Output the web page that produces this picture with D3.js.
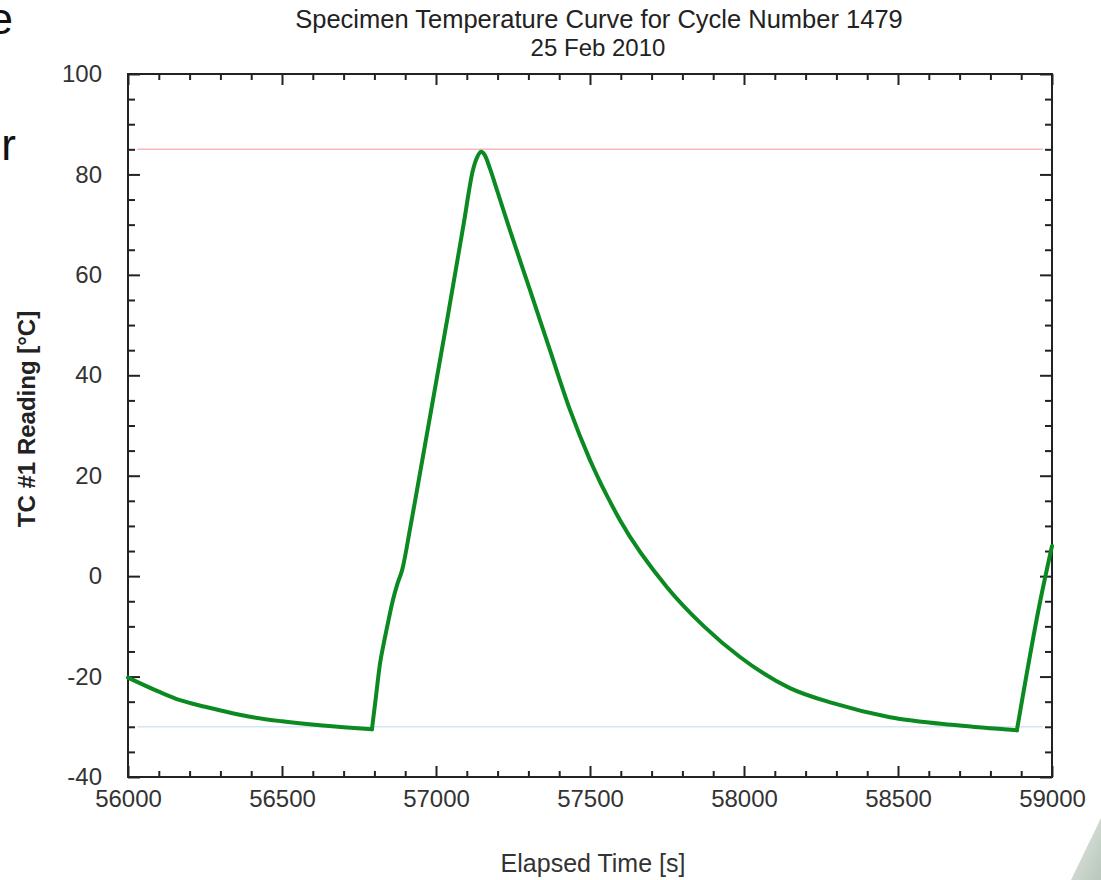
<!DOCTYPE html>
<html>
<head>
    <meta charset="utf-8">
    <style>
        body {
            margin: 0;
            background: #fff;
            font-family: 'Liberation Sans', Arial, sans-serif;
        }
        svg {
            display: block;
        }
        .tick text {
            font-size: 24px;
            fill: #333;
        }
        .domain {
            display: none;
        }
        .tick line {
            stroke: #222;
            stroke-width: 2;
        }
        .title {
            fill: #222;
        }
    </style>
</head>
<body>
    <svg width="1101" height="880"></svg>

<script src="https://d3js.org/d3.v7.min.js"></script>
<script>
    // curve: elapsed time [s] and TC #1 reading [°C]
    let times = [56000, 56100, 56169, 56250, 56406, 56500, 56623, 56700, 56792,
        56805, 56818, 56830, 56841, 56860, 56875, 56890, 56916, 56935, 57036,
        57090, 57120, 57135, 57146, 57158, 57175, 57200, 57240, 57305, 57370,
        57435, 57500, 57597, 57750, 57870, 57987, 58149, 58289, 58474, 58692,
        58886, 58961, 59000]
    let temps = [-20.2, -23.0, -24.7, -26.0, -28.1, -28.9, -29.7, -30.1, -30.5,
        -24.0, -17.5, -13.5, -10.2, -4.8, -1.5, 1.2, 9.5, 16.0, 51.0,
        70.2, 80.9, 83.6, 84.5, 83.9, 81.2, 76.5, 68.9, 57.0, 45.0,
        33.1, 23.1, 11.2, -2.2, -10.0, -16.1, -22.3, -25.3, -28.1, -29.7,
        -30.7, -5.2, 6.0]

    // the heater switches on at these two minima, the line has a hard corner there
    let switchTimes = [56792, 58886]

    let upperLimit = 85
    let lowerLimit = -30
    let limitSpan = [56030, 58970]

    let xTicks = [56000, 56500, 57000, 57500, 58000, 58500, 59000]
    let yTicks = [-40, -20, 0, 20, 40, 60, 80, 100]

    let svg = d3.select("svg")

    let x = d3.scaleLinear()
        .domain([56000, 59000])
        .range([128, 1052])

    let y = d3.scaleLinear()
        .domain([-40, 100])
        .range([777, 74])

    let data = times.map((t, i) => ({ t: t, v: temps[i] }))

    // cut the series into pieces at the corners
    let cuts = [times[0], ...switchTimes, times[times.length - 1]]
    let pieces = d3.pairs(cuts).map(([a, b]) => data.filter(d => d.t >= a && d.t <= b))

    // minor ticks
    let xMinor = d3.range(56000, 59001, 100).filter(d => d % 500 != 0)
    let yMinor = d3.range(-40, 101, 5).filter(d => d % 20 != 0)

    svg.append("g")
        .attr("transform", `translate(0,${y(-40)})`)
        .call(d3.axisBottom(x).tickValues(xMinor).tickSize(-6).tickFormat(""))
    svg.append("g")
        .attr("transform", `translate(0,${y(100)})`)
        .call(d3.axisTop(x).tickValues(xMinor).tickSize(-6).tickFormat(""))
    svg.append("g")
        .attr("transform", `translate(${x(56000)},0)`)
        .call(d3.axisLeft(y).tickValues(yMinor).tickSize(-7).tickFormat(""))
    svg.append("g")
        .attr("transform", `translate(${x(59000)},0)`)
        .call(d3.axisRight(y).tickValues(yMinor).tickSize(-7).tickFormat(""))

    // major ticks
    svg.append("g")
        .attr("class", "x axis")
        .attr("transform", `translate(0,${y(-40)})`)
        .call(d3.axisBottom(x).tickValues(xTicks).tickSize(-11).tickPadding(13).tickFormat(d => String(d)))
    svg.append("g")
        .attr("transform", `translate(0,${y(100)})`)
        .call(d3.axisTop(x).tickValues(xTicks).tickSize(-11).tickFormat(""))
    svg.append("g")
        .attr("class", "y axis")
        .attr("transform", `translate(${x(56000)},0)`)
        .call(d3.axisLeft(y).tickValues(yTicks).tickSize(-12).tickPadding(26).tickFormat(d => String(d)))
    svg.append("g")
        .attr("transform", `translate(${x(59000)},0)`)
        .call(d3.axisRight(y).tickValues(yTicks).tickSize(-12).tickFormat(""))

    // limit lines
    svg.append("line")
        .attr("x1", x(limitSpan[0]))
        .attr("x2", x(limitSpan[1]))
        .attr("y1", y(upperLimit))
        .attr("y2", y(upperLimit))
        .attr("stroke", "#f6b8b8")
        .attr("stroke-width", 1.5)
    svg.append("line")
        .attr("x1", x(limitSpan[0]))
        .attr("x2", x(limitSpan[1]))
        .attr("y1", y(lowerLimit))
        .attr("y2", y(lowerLimit))
        .attr("stroke", "#d6e4f6")
        .attr("stroke-width", 1.5)

    // frame
    svg.append("rect")
        .attr("x", x(56000))
        .attr("y", y(100))
        .attr("width", x(59000) - x(56000))
        .attr("height", y(-40) - y(100))
        .attr("fill", "none")
        .attr("stroke", "#222")
        .attr("stroke-width", 2)

    // the curve
    let line = d3.line()
        .x(d => x(d.t))
        .y(d => y(d.v))
        .curve(d3.curveMonotoneX)

    svg.append("g")
        .selectAll("path")
        .data(pieces)
        .join("path")
        .attr("d", line)
        .attr("fill", "none")
        .attr("stroke", "#0b8a22")
        .attr("stroke-width", 4)
        .attr("stroke-linejoin", "round")
        .attr("stroke-linecap", "round")

    // titles
    svg.append("text")
        .attr("class", "title")
        .attr("x", 599)
        .attr("y", 28)
        .attr("text-anchor", "middle")
        .style("font-size", "25.5px")
        .text("Specimen Temperature Curve for Cycle Number 1479")
    svg.append("text")
        .attr("class", "title")
        .attr("x", 598)
        .attr("y", 56)
        .attr("text-anchor", "middle")
        .style("font-size", "24px")
        .text("25 Feb 2010")

    svg.append("text")
        .attr("x", 593)
        .attr("y", 872)
        .attr("text-anchor", "middle")
        .style("font-size", "25px")
        .style("fill", "#333")
        .text("Elapsed Time [s]")

    svg.append("text")
        .attr("transform", "translate(35,419) rotate(-90)")
        .attr("text-anchor", "middle")
        .style("font-size", "24px")
        .style("font-weight", "bold")
        .style("fill", "#222")
        .text("TC #1 Reading [°C]")

    // slide leftovers around the chart
    svg.append("text")
        .attr("x", 13)
        .attr("y", 34)
        .attr("text-anchor", "end")
        .style("font-size", "44px")
        .style("fill", "#111")
        .text("The")
    svg.append("text")
        .attr("x", 16)
        .attr("y", 160)
        .attr("text-anchor", "end")
        .style("font-size", "44px")
        .style("fill", "#111")
        .text("for")

    let grad = svg.append("defs").append("linearGradient")
        .attr("id", "corner")
        .attr("x1", 0).attr("y1", 0).attr("x2", 1).attr("y2", 1)
    grad.append("stop").attr("offset", 0).attr("stop-color", "#e3e9e3")
    grad.append("stop").attr("offset", 1).attr("stop-color", "#b9c7bc")
    svg.append("polygon")
        .attr("points", "1101,818 1071,880 1101,880")
        .attr("fill", "url(#corner)")
</script>
</body>
</html>
